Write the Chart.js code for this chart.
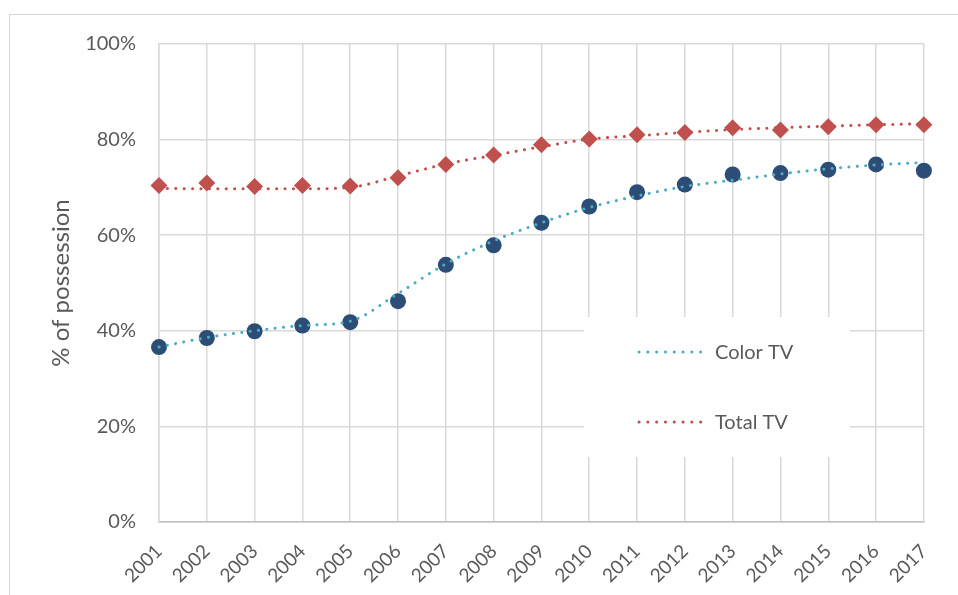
<!DOCTYPE html>
<html>
<head>
<meta charset="utf-8">
<script src="https://cdn.jsdelivr.net/npm/chart.js@4/dist/chart.umd.min.js"></script>
<style>
  html, body { margin: 0; padding: 0; background: #ffffff; overflow: hidden; }
  #frame {
    position: absolute; left: 9px; top: 14px; width: 1000px; height: 700px;
    border: 1.5px solid #d9d9d9; box-sizing: border-box;
  }
  #wrap { position: absolute; left: 0; top: 0; width: 958px; height: 595px; }
</style>
</head>
<body>
<div id="frame"></div>
<div id="wrap"><canvas id="chart" width="958" height="595"></canvas></div>
<script>
// Survey years
const years = ['2001','2002','2003','2004','2005','2006','2007','2008','2009',
               '2010','2011','2012','2013','2014','2015','2016','2017'];

// Share of households owning a TV (%), yearly observations
const colorTV = [36.6, 38.5, 39.9, 41.1, 41.8, 46.2, 53.8, 57.9, 62.6,
                 66.0, 69.0, 70.6, 72.7, 73.0, 73.7, 74.8, 73.5];
const totalTV = [70.4, 70.9, 70.2, 70.4, 70.3, 72.0, 74.8, 76.8, 78.9,
                 80.1, 81.0, 81.5, 82.5, 82.0, 82.7, 83.1, 83.1];

// Smoothed trend through each series (%)
const colorTrend = [36.6, 38.6, 40.0, 41.1, 42.0, 47.8, 54.0, 58.8, 62.6,
                    65.8, 68.2, 70.2, 71.5, 72.8, 73.9, 74.7, 75.2];
const totalTrend = [69.8, 69.7, 69.7, 69.7, 70.0, 72.4, 74.9, 76.7, 78.5,
                    80.1, 80.8, 81.5, 82.1, 82.5, 82.8, 83.1, 83.3];

// Axis ticks (%)
const yTicks = [0, 20, 40, 60, 80, 100];

const TEXT = '#595959';
const GRID = '#d9d9d9';
const FONT = 'Lato, "Noto Sans", sans-serif';

// Legend drawn in a white box inside the plot area
const boxLegend = {
  id: 'boxLegend',
  beforeDatasetsDraw(chart) {
    const ctx = chart.ctx;
    ctx.save();
    ctx.fillStyle = '#ffffff';
    ctx.fillRect(584, 317, 266, 140);
    const items = chart.data.datasets.filter(d => d.inLegend);
    items.forEach((d, i) => {
      const y = 352 + i * 70;
      ctx.beginPath();
      ctx.setLineDash([0.1, 8.7]);
      ctx.lineCap = 'round';
      ctx.lineWidth = 3;
      ctx.strokeStyle = d.borderColor;
      ctx.moveTo(639, y);
      ctx.lineTo(709, y);
      ctx.stroke();
      ctx.setLineDash([]);
      ctx.fillStyle = TEXT;
      ctx.font = '20px ' + FONT;
      ctx.textBaseline = 'middle';
      ctx.textAlign = 'left';
      ctx.fillText(d.label, 715, y + 1);
    });
    ctx.restore();
  }
};

new Chart(document.getElementById('chart'), {
  type: 'line',
  data: {
    labels: years,
    datasets: [
      {
        label: 'Color TV', data: colorTrend, inLegend: true, order: 0,
        borderColor: '#4bacc6', borderWidth: 3, borderDash: [0.1, 8.3],
        borderCapStyle: 'round', pointRadius: 0, cubicInterpolationMode: 'monotone',
        fill: false, clip: false
      },
      {
        label: 'Total TV', data: totalTrend, inLegend: true, order: 0,
        borderColor: '#c0504d', borderWidth: 3, borderDash: [0.1, 8.3],
        borderCapStyle: 'round', pointRadius: 0, cubicInterpolationMode: 'monotone',
        fill: false, clip: false
      },
      {
        label: 'Color TV (obs.)', data: colorTV, order: 1, showLine: false,
        pointStyle: 'circle', pointRadius: 8, pointBackgroundColor: '#2c4d75',
        pointBorderColor: '#2c4d75', pointBorderWidth: 0, clip: false
      },
      {
        label: 'Total TV (obs.)', data: totalTV, order: 1, showLine: false,
        pointStyle: 'rectRot', pointRadius: 8.5, pointBackgroundColor: '#c0504d',
        pointBorderColor: '#c0504d', pointBorderWidth: 0, clip: false
      }
    ]
  },
  options: {
    responsive: false,
    animation: false,
    devicePixelRatio: 1,
    layout: { padding: { left: 47, top: 44, right: 34, bottom: 0 } },
    plugins: { legend: { display: false }, tooltip: { enabled: false } },
    scales: {
      x: {
        type: 'category',
        offset: false,
        grid: { color: GRID, lineWidth: 1.5, drawTicks: false },
        border: { color: '#bfbfbf', width: 1.5 },
        ticks: {
          color: TEXT, font: { family: FONT, size: 19 },
          minRotation: 45, maxRotation: 45, padding: 18, autoSkip: false
        },
        afterFit(scale) { scale.height = 73; }
      },
      y: {
        min: 0, max: 100,
        afterBuildTicks(scale) { scale.ticks = yTicks.map(v => ({ value: v })); },
        grid: { color: GRID, lineWidth: 1.5, drawTicks: false },
        border: { color: GRID, width: 1.5 },
        ticks: {
          color: TEXT, font: { family: FONT, size: 20 }, padding: 23,
          callback: v => v + '%'
        },
        title: {
          display: true, text: '% of possession', color: TEXT,
          font: { family: FONT, size: 24 }, padding: 0
        },
        afterFit(scale) { scale.width = 112; }
      }
    }
  },
  plugins: [boxLegend]
});
</script>
</body>
</html>
